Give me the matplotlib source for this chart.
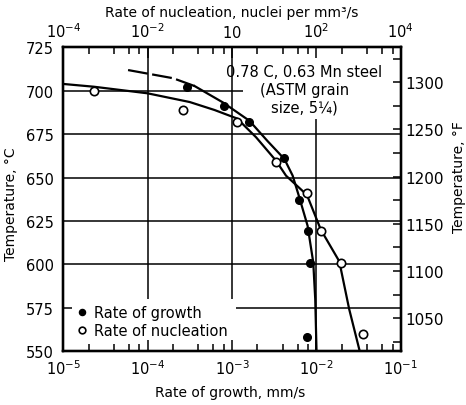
import matplotlib
matplotlib.use('Agg')
from matplotlib import pyplot as plt
from matplotlib.ticker import LogLocator, MultipleLocator, NullFormatter

# measured points: rate (mm/s) vs temperature (C)
growth_rate = [2.95e-4, 8.1e-4, 1.58e-3, 4.1e-3, 6.3e-3, 7.9e-3, 8.3e-3, 7.7e-3]
growth_temp = [702, 691, 682, 661, 637, 619, 601, 558]
nucl_rate = [2.3e-5, 2.6e-4, 1.16e-3, 3.3e-3, 7.8e-3, 1.14e-2, 1.97e-2, 3.6e-2]
nucl_temp = [700, 689, 682, 659, 641, 619, 601, 560]

# hand drawn curves
growth_dash_x = [5.86e-5, 2.0e-4, 3.6e-4]
growth_dash_t = [711.9, 707.2, 702.7]
growth_fit_x = [3.6e-4, 7.78e-4, 1.61e-3, 2.63e-3, 4.18e-3, 5.24e-3, 6.28e-3,
                7.87e-3, 9.19e-3, 9.7e-3, 1.005e-2]
growth_fit_t = [702.7, 693.3, 682.7, 671.1, 660.7, 651.1, 638.6,
                622.3, 601.2, 580.1, 550]
nucl_fit_x = [1e-5, 2.31e-5, 1e-4, 3.15e-4, 6.21e-4, 1.15e-3, 1.93e-3, 3.33e-3,
              4.37e-3, 7.74e-3, 1.13e-2, 1.87e-2, 2.45e-2, 3.27e-2]
nucl_fit_t = [703.9, 702.3, 698.5, 693.5, 688.9, 684.0, 673.2, 659.7,
              651.1, 640.0, 620.0, 601.8, 574.3, 550]

temp_ticks = [550, 575, 600, 625, 650, 675, 700, 725]
decades = [1e-5, 1e-4, 1e-3, 1e-2, 1e-1]
top_labels = ['$10^{-4}$', '$10^{-2}$', '$10$', '$10^{2}$', '$10^{4}$']
f_ticks = [1050, 1100, 1150, 1200, 1250, 1300]

# grid segments (the original grid is broken around the text)
hgrid = [(700, 1e-5, 1.34e-3), (675, 1e-5, 1e-1), (650, 1e-5, 1e-1),
         (625, 1e-5, 1e-1), (600, 1e-5, 1e-1), (575, 1e-5, 1.27e-5),
         (575, 1.13e-3, 1e-1)]
vgrid = [(1e-4, 580, 725), (1e-3, 580, 725), (1e-2, 550, 683.7)]

fig = plt.figure(figsize=(4.66, 4.06), dpi=100)
ax = fig.add_axes([63.3 / 466, 1 - 352.3 / 406, 337.4 / 466, 304 / 406])

for y, x0, x1 in hgrid:
    ax.hlines(y, x0, x1, color='k', lw=1.1)
for x, y0, y1 in vgrid:
    ax.vlines(x, y0, y1, color='k', lw=1.1)

ax.plot(growth_dash_x, growth_dash_t, color='k', lw=1.6, ls=(0, (9, 2)))
ax.plot(growth_fit_x, growth_fit_t, color='k', lw=1.6)
ax.plot(nucl_fit_x, nucl_fit_t, color='k', lw=1.6)
h1, = ax.plot(growth_rate, growth_temp, 'o', color='k', ms=5.5, zorder=5,
              label='Rate of growth')
h2, = ax.plot(nucl_rate, nucl_temp, 'o', mfc='white', mec='k', mew=1.2, ms=6,
              zorder=5, label='Rate of nucleation')

ax.set_xscale('log')
ax.set_xlim(1e-5, 1e-1)
ax.set_ylim(550, 725)
ax.set_xticks(decades)
ax.xaxis.set_minor_locator(LogLocator(base=10, subs=(2, 4, 6, 8)))
ax.xaxis.set_minor_formatter(NullFormatter())
ax.set_yticks(temp_ticks)
ax.tick_params(axis='x', which='major', direction='in', length=8, width=1.1,
               pad=5, labelsize=10.5)
ax.tick_params(axis='x', which='minor', direction='in', length=5, width=1.1)
ax.tick_params(axis='y', length=0, pad=7, labelsize=10.5)

axt = ax.twiny()
axt.set_xscale('log')
axt.set_xlim(1e-5, 1e-1)
axt.set_xticks(decades)
axt.set_xticklabels(top_labels)
axt.xaxis.set_minor_locator(LogLocator(base=10, subs=(2, 4, 6, 8)))
axt.xaxis.set_minor_formatter(NullFormatter())
axt.tick_params(axis='x', which='major', direction='in', length=8, width=1.1,
                pad=5, labelsize=10.5)
axt.tick_params(axis='x', which='minor', direction='in', length=5, width=1.1)

axr = ax.twinx()
axr.set_ylim(1015, 1337)
axr.set_yticks(f_ticks)
axr.yaxis.set_minor_locator(MultipleLocator(25))
axr.tick_params(axis='y', which='both', direction='in', length=6, width=1.1,
                pad=3, labelsize=11)

for a in (ax, axt, axr):
    for s in a.spines.values():
        s.set_linewidth(1.6)

ax.text(0.714, 0.862, '0.78 C, 0.63 Mn steel\n(ASTM grain\nsize, 5¼)',
        transform=ax.transAxes, ha='center', va='center', fontsize=10.5,
        linespacing=1.2, multialignment='center')

ax.legend(handles=[h1, h2], loc='upper left', bbox_to_anchor=(0.025, 0.17),
          frameon=False, fontsize=10.5, handlelength=0.6, handletextpad=0.5,
          labelspacing=0.15, borderaxespad=0, markerscale=0.8)

fig.text(230 / 466, 1 - 393 / 406, 'Rate of growth, mm/s', ha='center',
         va='center', fontsize=10)
fig.text(231.7 / 466, 1 - 12.5 / 406, 'Rate of nucleation, nuclei per mm³/s',
         ha='center', va='center', fontsize=10)
fig.text(11 / 466, 1 - 204 / 406, 'Temperature, °C', rotation=90,
         ha='center', va='center', fontsize=10)
fig.text(459 / 466, 1 - 177 / 406, 'Temperature, °F', rotation=90,
         ha='center', va='center', fontsize=10)

plt.savefig('out.png', dpi=100)
